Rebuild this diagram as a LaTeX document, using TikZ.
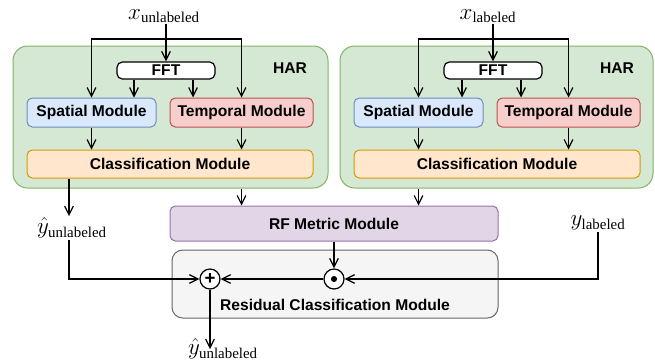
\documentclass[tikz,border=0pt]{standalone}
\usepackage{fontspec}
\setmainfont{Liberation Serif}
\setsansfont{Liberation Sans}
\usetikzlibrary{arrows.meta}
\definecolor{harfill}{HTML}{D5E8D4}
\definecolor{harline}{HTML}{82B366}
\definecolor{spfill}{HTML}{DAE8FC}
\definecolor{spline}{HTML}{6C8EBF}
\definecolor{tpfill}{HTML}{F8CECC}
\definecolor{tpline}{HTML}{B85450}
\definecolor{clfill}{HTML}{FFE6CC}
\definecolor{clline}{HTML}{D79B00}
\definecolor{rffill}{HTML}{E1D5E7}
\definecolor{rfline}{HTML}{9673A6}
\definecolor{resfill}{HTML}{F5F5F5}
\definecolor{resline}{HTML}{666666}
\tikzstyle{arrow} = [-{Straight Barb[length=6.5pt,width=6.5pt]}, line width=0.9pt]
\tikzstyle{module} = [draw, rounded corners=4pt, inner sep=0pt, line width=0.75pt, font=\sffamily\bfseries\fontsize{11.7}{14}\selectfont]
\tikzstyle{var} = [inner sep=1pt, font=\fontsize{16}{19}\selectfont]
\tikzstyle{opnode} = [draw, circle, fill=white, minimum size=15pt, inner sep=0pt, line width=0.9pt]

\begin{document}
\begin{tikzpicture}[x=0.75pt, y=-0.75pt]
        \useasboundingbox (0,0) rectangle (655,362);
        \node[module, fill=harfill, draw=harline, rounded corners=11pt, minimum width=236.25pt, minimum height=106.5pt] at (170.5,117) (har1) {};
        \node[module, fill=harfill, draw=harline, rounded corners=11pt, minimum width=234.75pt, minimum height=106.5pt] at (496.5,117) (har2) {};
        \node[module, draw=none] at (290,68) (harl1) {HAR};
        \node[module, draw=none] at (617,68) (harl2) {HAR};

        \node[module, fill=white, line width=0.9pt, minimum width=73.5pt, minimum height=12.75pt] at (166,70.5) (fft1) {FFT};
        \node[module, fill=spfill, draw=spline, minimum width=96.75pt, minimum height=21.75pt] at (91.5,112.5) (sp1) {Spatial Module};
        \node[module, fill=tpfill, draw=tpline, minimum width=107.25pt, minimum height=21.75pt] at (241.5,112.5) (tp1) {Temporal Module};
        \node[module, fill=clfill, draw=clline, minimum width=214.5pt, minimum height=21pt] at (170,164) (cl1) {Classification Module};

        \node[module, fill=white, line width=0.9pt, minimum width=73.5pt, minimum height=12.75pt] at (493,70.5) (fft2) {FFT};
        \node[module, fill=spfill, draw=spline, minimum width=96.75pt, minimum height=21.75pt] at (418.5,112.5) (sp2) {Spatial Module};
        \node[module, fill=tpfill, draw=tpline, minimum width=107.25pt, minimum height=21.75pt] at (568.5,112.5) (tp2) {Temporal Module};
        \node[module, fill=clfill, draw=clline, minimum width=214.5pt, minimum height=21pt] at (497,164) (cl2) {Classification Module};

        \node[module, fill=rffill, draw=rfline, minimum width=246pt, minimum height=26.25pt] at (334,223.5) (rf) {RF Metric Module};
        \node[module, fill=resfill, draw=resline, rounded corners=8pt, minimum width=244.5pt, minimum height=51pt] at (335,284) (res) {};
        \node[module, draw=none] at (335,305) (resl) {Residual Classification Module};
        \node[opnode, font=\sffamily\bfseries\fontsize{14}{14}\selectfont] at (210,279) (plus) {+};
        \node[opnode] at (334,279) (dot) {};
        \fill (dot.center) circle (2.3pt);

        \node[var] at (164,16) (xu) {$x_{\mathrm{unlabeled}}$};
        \node[var] at (488,16) (xl) {$x_{\mathrm{labeled}}$};
        \node[var] at (72,228) (yhu) {$\hat{y}_{\mathrm{unlabeled}}$};
        \node[var] at (598,223) (yl) {$y_{\mathrm{labeled}}$};
        \node[var, anchor=south] at (223,361) (yhr) {$\hat{y}_{\mathrm{unlabeled}}$};

        \coordinate (split1) at (fft1.north |- 0,39);
        \coordinate (split2) at (fft2.north |- 0,39);
        \draw[arrow] (fft1.north |- xu.south) -- (fft1.north);
        \draw[arrow] (split1) -| (sp1.north);
        \draw[arrow] (split1) -| (tp1.north);
        \draw[arrow] (134,0 |- fft1.south) -- (134,0 |- sp1.north);
        \draw[arrow] (193,0 |- fft1.south) -- (193,0 |- tp1.north);
        \draw[arrow] (sp1.south) -- (sp1.south |- cl1.north);
        \draw[arrow] (tp1.south) -- (tp1.south |- cl1.north);

        \draw[arrow] (fft2.north |- xl.south) -- (fft2.north);
        \draw[arrow] (split2) -| (sp2.north);
        \draw[arrow] (split2) -| (tp2.north);
        \draw[arrow] (462,0 |- fft2.south) -- (462,0 |- sp2.north);
        \draw[arrow] (521,0 |- fft2.south) -- (521,0 |- tp2.north);
        \draw[arrow] (sp2.south) -- (sp2.south |- cl2.north);
        \draw[arrow] (tp2.south) -- (tp2.south |- cl2.north);

        \draw[arrow] (69,0 |- cl1.south) -- (69,0 |- yhu.north);
        \draw[arrow] (69,0 |- yhu.south) |- (plus.west);
        \draw[arrow] (tp1.south |- har1.south) -- (tp1.south |- rf.north);
        \draw[arrow] (sp2.south |- har2.south) -- (sp2.south |- rf.north);
        \draw[arrow] (rf.south) -- (dot.north);
        \draw[arrow] (yl.south) |- (dot.east);
        \draw[arrow] (dot.west) -- (plus.east);
        \draw[arrow] (plus.south) -- (plus.south |- yhr.center);

      \end{tikzpicture}
\end{document}
